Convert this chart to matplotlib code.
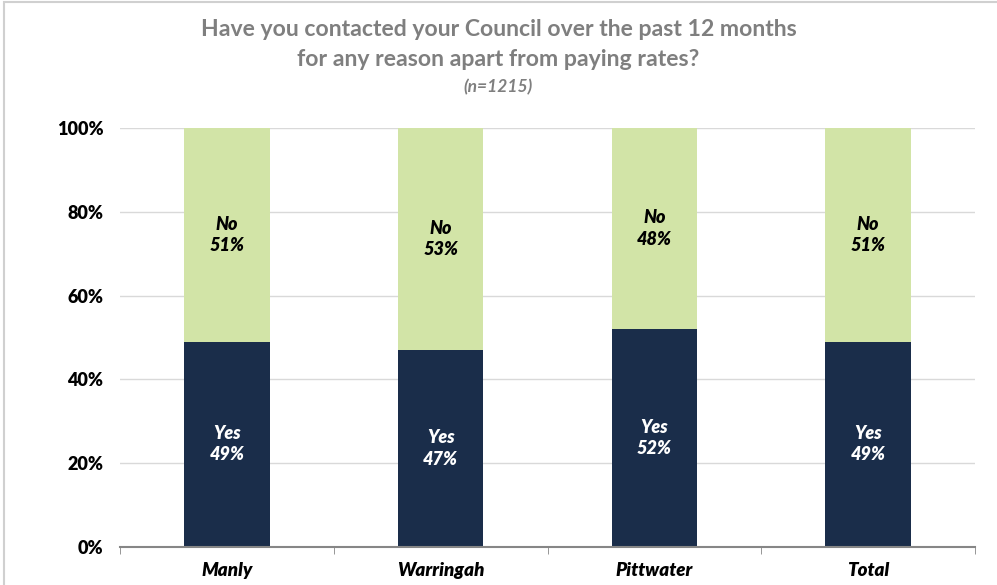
import matplotlib; matplotlib.use('Agg')
import matplotlib.pyplot as plt
from matplotlib.patches import Rectangle
import numpy as np

councils = ["Manly", "Warringah", "Pittwater", "Total"]
yes_pct = [49, 47, 52, 49]
no_pct = [51, 53, 48, 51]

plt.rcParams['font.family'] = ['Lato', 'DejaVu Sans']

fig = plt.figure(figsize=(9.97, 5.85), dpi=100)
ax = fig.add_axes([120/997, 38/585, 855/997, 419/585])

x = np.arange(len(councils))
ax.bar(x, yes_pct, width=0.4, color="#1a2d4a", zorder=3)
ax.bar(x, no_pct, width=0.4, bottom=yes_pct, color="#d2e4a7", zorder=3)

for xi, y, n in zip(x, yes_pct, no_pct):
    ax.text(xi, y / 2, f"Yes\n{y}%", ha="center", va="center", color="white",
            fontsize=13, fontweight="heavy", style="italic", linespacing=1.3, zorder=4)
    ax.text(xi, y + n / 2, f"No\n{n}%", ha="center", va="center", color="black",
            fontsize=13, fontweight="heavy", style="italic", linespacing=1.3, zorder=4)

ax.set_xlim(-0.5, len(councils) - 0.5)
ax.set_ylim(0, 100)
ax.set_yticks(range(0, 101, 20))
ax.set_yticklabels([f"{v}%" for v in range(0, 101, 20)], fontsize=13, fontweight="heavy")
ax.yaxis.grid(True, color="#d9d9d9", linewidth=1, zorder=0)
ax.tick_params(axis="y", length=0, pad=12)

ax.set_xticks(x)
ax.set_xticklabels(councils, fontsize=13.5, fontweight="heavy", style="italic")
ax.tick_params(axis="x", length=0, pad=11)
ax.set_xticks(np.arange(-0.5, len(councils)), minor=True)
ax.tick_params(axis="x", which="minor", length=5, color="#868686", direction="out")

for s in ["top", "right", "left"]:
    ax.spines[s].set_visible(False)
ax.spines["bottom"].set_color("#868686")
ax.spines["bottom"].set_linewidth(1.5)
ax.spines["bottom"].set_zorder(5)

fig.text(0.5, 1 - 30/585, "Have you contacted your Council over the past 12 months",
         ha="center", va="center", fontsize=16.6, fontweight="bold", color="#7f7f7f")
fig.text(0.5, 1 - 60/585, "for any reason apart from paying rates?",
         ha="center", va="center", fontsize=16.6, fontweight="bold", color="#7f7f7f")
fig.text(0.5, 1 - 87/585, "(n=1215)", ha="center", va="center", fontsize=12.5,
         style="italic", fontweight="bold", color="#7f7f7f")

# light frame at top and left like the source screenshot
fig.add_artist(Rectangle((4/997, -0.1), 1.2, 1 - 2/585 + 0.1, transform=fig.transFigure,
                         fill=False, edgecolor="#d0d0d0", linewidth=1.5))

fig.savefig("out.png", dpi=100)
